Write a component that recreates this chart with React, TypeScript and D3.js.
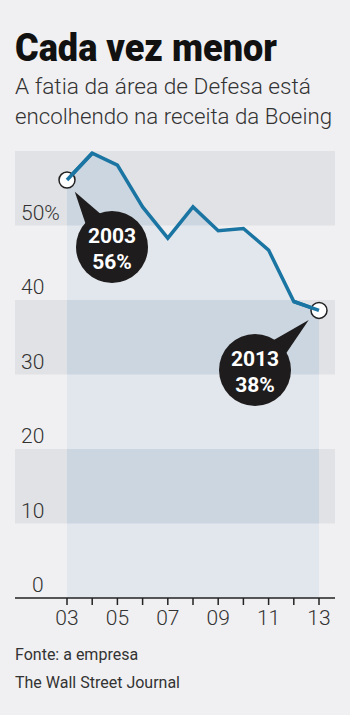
import React, { useEffect, useRef } from 'react';
import * as d3 from 'd3';

const years = [2003, 2004, 2005, 2006, 2007, 2008, 2009, 2010, 2011, 2012, 2013];
const shares = [56.1, 59.7, 58.1, 52.5, 48.3, 52.5, 49.3, 49.6, 46.7, 39.8, 38.6];
const yTicks = [0, 10, 20, 30, 40, 50];
const xTickLabels = [2003, 2005, 2007, 2009, 2011, 2013];
const bands: [number, number][] = [[50, 60], [30, 40], [10, 20]];
const callouts = [
  { year: 2003, value: 56.1, line1: '2003', line2: '56%', cx: 112, cy: 247 },
  { year: 2013, value: 38.6, line1: '2013', line2: '38%', cx: 255, cy: 370 },
];

const W = 350;
const H = 715;
const FONT = 'Roboto, "Liberation Sans", sans-serif';

export default function App() {
  const svgRef = useRef<SVGSVGElement>(null);

  useEffect(() => {
    if (!svgRef.current) return;
    const svg = d3.select(svgRef.current);
    svg.selectAll('*').remove();

    const left = 15;
    const right = 335;

    const x = d3.scaleLinear().domain([2003, 2013]).range([67, 319]);
    const y = d3.scaleLinear().domain([0, 60]).range([598, 151]);

    svg.append('rect').attr('width', W).attr('height', H).attr('fill', '#f0f0f2');

    // Title
    svg.append('text')
      .attr('x', 15).attr('y', 61)
      .attr('textLength', 262).attr('lengthAdjust', 'spacingAndGlyphs')
      .style('font-family', FONT).style('font-weight', 900).style('font-size', '38px')
      .attr('fill', '#111')
      .text('Cada vez menor');

    svg.append('text')
      .attr('x', 15).attr('y', 94)
      .attr('textLength', 296).attr('lengthAdjust', 'spacingAndGlyphs')
      .style('font-family', FONT).style('font-weight', 300).style('font-size', '22px')
      .attr('fill', '#333')
      .text('A fatia da área de Defesa está');
    svg.append('text')
      .attr('x', 15).attr('y', 124)
      .attr('textLength', 317).attr('lengthAdjust', 'spacingAndGlyphs')
      .style('font-family', FONT).style('font-weight', 300).style('font-size', '22px')
      .attr('fill', '#333')
      .text('encolhendo na receita da Boeing');

    // Bands
    svg.append('g').selectAll('rect').data(bands).enter().append('rect')
      .attr('x', left).attr('width', right - left)
      .attr('y', d => y(d[1])).attr('height', d => y(d[0]) - y(d[1]))
      .attr('fill', '#e1e2e5');

    // Area under line
    const area = d3.area<number>()
      .x((_, i) => x(years[i]))
      .y0(y(0))
      .y1(d => y(d));

    svg.append('path').datum(shares).attr('d', area).attr('fill', '#e2e7ed');

    svg.append('clipPath').attr('id', 'area-clip')
      .append('path').datum(shares).attr('d', area);

    svg.append('g').attr('clip-path', 'url(#area-clip)')
      .selectAll('rect').data(bands).enter().append('rect')
      .attr('x', left).attr('width', right - left)
      .attr('y', d => y(d[1])).attr('height', d => y(d[0]) - y(d[1]))
      .attr('fill', '#ccd6e1');

    // Y labels
    svg.append('g').selectAll('text').data(yTicks).enter().append('text')
      .attr('x', d => (d === 0 ? 32 : 21))
      .attr('y', d => y(d) - 6)
      .style('font-family', FONT).style('font-weight', 300).style('font-size', '21px')
      .attr('fill', '#333')
      .text(d => (d === 50 ? '50%' : String(d)));

    // X axis
    svg.append('line')
      .attr('x1', left).attr('x2', right)
      .attr('y1', y(0)).attr('y2', y(0))
      .attr('stroke', '#222').attr('stroke-width', 1.5);

    svg.append('g').selectAll('line').data(years).enter().append('line')
      .attr('x1', d => x(d)).attr('x2', d => x(d))
      .attr('y1', y(0)).attr('y2', y(0) + 7)
      .attr('stroke', '#222').attr('stroke-width', 1.5);

    svg.append('g').selectAll('text').data(xTickLabels).enter().append('text')
      .attr('x', d => x(d)).attr('y', 625)
      .attr('text-anchor', 'middle')
      .style('font-family', FONT).style('font-weight', 300).style('font-size', '21px')
      .attr('fill', '#333')
      .text(d => String(d).slice(2));

    // Line
    const line = d3.line<number>()
      .x((_, i) => x(years[i]))
      .y(d => y(d));

    svg.append('path').datum(shares)
      .attr('d', line)
      .attr('fill', 'none')
      .attr('stroke', '#1b75a3')
      .attr('stroke-width', 3.5)
      .attr('stroke-linejoin', 'miter');

    // Callouts
    callouts.forEach(c => {
      const px = x(c.year);
      const py = y(c.value);
      const r = 36;
      const ang = Math.atan2(py - c.cy, px - c.cx);
      const tipDist = Math.hypot(px - c.cx, py - c.cy);
      const tip: [number, number] = [c.cx + Math.cos(ang) * (tipDist - 14), c.cy + Math.sin(ang) * (tipDist - 14)];
      const a1 = ang - 0.28;
      const a2 = ang + 0.28;
      svg.append('path')
        .attr('d', `M${c.cx + Math.cos(a1) * (r - 2)},${c.cy + Math.sin(a1) * (r - 2)}L${tip[0]},${tip[1]}L${c.cx + Math.cos(a2) * (r - 2)},${c.cy + Math.sin(a2) * (r - 2)}Z`)
        .attr('fill', '#1e1c1c');
      svg.append('circle')
        .attr('cx', c.cx).attr('cy', c.cy).attr('r', r)
        .attr('fill', '#1e1c1c');
      svg.append('text')
        .attr('x', c.cx).attr('y', c.cy - 4)
        .attr('text-anchor', 'middle')
        .style('font-family', FONT).style('font-weight', 700).style('font-size', '21px')
        .attr('fill', '#fff')
        .text(c.line1);
      svg.append('text')
        .attr('x', c.cx).attr('y', c.cy + 22)
        .attr('text-anchor', 'middle')
        .style('font-family', FONT).style('font-weight', 700).style('font-size', '21px')
        .attr('fill', '#fff')
        .text(c.line2);
      svg.append('circle')
        .attr('cx', px).attr('cy', py).attr('r', 8)
        .attr('fill', '#fff').attr('stroke', '#222').attr('stroke-width', 1.5);
    });

    // Redraw line ends over markers
    svg.append('path').datum(shares.slice(0, 2))
      .attr('d', d3.line<number>().x((_, i) => x(years[i])).y(d => y(d)))
      .attr('fill', 'none').attr('stroke', '#1b75a3').attr('stroke-width', 3.5);
    svg.append('path').datum(shares.slice(9))
      .attr('d', d3.line<number>().x((_, i) => x(years[i + 9])).y(d => y(d)))
      .attr('fill', 'none').attr('stroke', '#1b75a3').attr('stroke-width', 3.5);

    // Footer
    svg.append('text')
      .attr('x', 15).attr('y', 660)
      .style('font-family', FONT).style('font-weight', 400).style('font-size', '16px')
      .attr('fill', '#333')
      .text('Fonte: a empresa');
    svg.append('text')
      .attr('x', 15).attr('y', 688)
      .style('font-family', FONT).style('font-weight', 400).style('font-size', '16px')
      .attr('fill', '#333')
      .text('The Wall Street Journal');
  }, []);

  return (
    <svg
      ref={svgRef}
      width={W}
      height={H}
      style={{ position: 'absolute', left: 0, top: 0, display: 'block' }}
    />
  );
}
